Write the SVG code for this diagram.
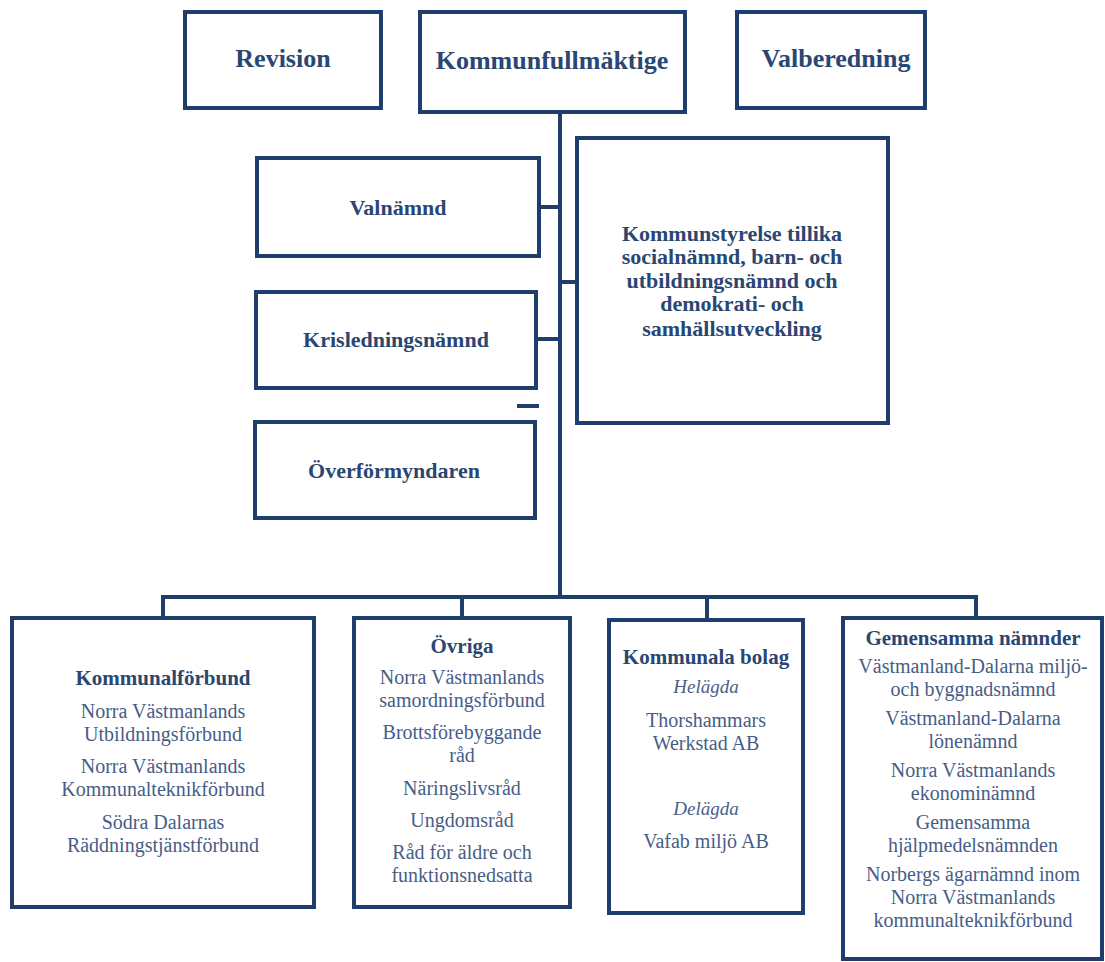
<svg xmlns="http://www.w3.org/2000/svg" width="1105" height="962" viewBox="0 0 1105 962">
<style>
.box{fill:#fff;stroke:#203e6b;stroke-width:4}
.con{stroke:#203e6b;stroke-width:4;fill:none}
text{font-family:"Liberation Serif","Times New Roman",serif;text-anchor:middle}
.t1{font-size:26px;font-weight:bold;fill:#2a4672}
.t2{font-size:22px;font-weight:bold;fill:#2a4672}
.t3{font-size:21px;font-weight:bold;fill:#2a4672}
.r{font-size:20px;fill:#465d87}
.i{font-size:19px;font-style:italic;fill:#4a6089}
</style>
<rect width="1105" height="962" fill="#fff"/>
<g id="connectors">
<line class="con" x1="560" y1="112" x2="560" y2="597"/>
<line class="con" x1="539" y1="207" x2="560" y2="207"/>
<line class="con" x1="536" y1="339" x2="560" y2="339"/>
<line class="con" x1="560" y1="282" x2="577" y2="282"/>
<line class="con" x1="517" y1="406" x2="539" y2="406"/>
<polyline class="con" points="163,617 163,597 976,597 976,617"/>
<line class="con" x1="462" y1="597" x2="462" y2="617"/>
<line class="con" x1="707" y1="597" x2="707" y2="619"/>
</g>
<g id="revision">
<rect class="box" x="185" y="12" width="196" height="96"/>
<text class="t1" x="283" y="67">Revision</text>
</g>
<g id="kommunfullmaktige">
<rect class="box" x="420" y="12" width="265" height="100"/>
<text class="t1" x="552" y="69">Kommunfullmäktige</text>
</g>
<g id="valberedning">
<rect class="box" x="737" y="12" width="188" height="96"/>
<text class="t1" x="836" y="67">Valberedning</text>
</g>
<g id="valnamnd">
<rect class="box" x="257" y="158" width="282" height="98"/>
<text class="t2" x="398" y="215">Valnämnd</text>
</g>
<g id="krisledningsnamnd">
<rect class="box" x="256" y="292" width="280" height="96"/>
<text class="t2" x="396" y="347">Krisledningsnämnd</text>
</g>
<g id="overformyndaren">
<rect class="box" x="255" y="422" width="280" height="96"/>
<text class="t2" x="394" y="478">Överförmyndaren</text>
</g>
<g id="kommunstyrelse">
<rect class="box" x="577" y="138" width="311" height="285"/>
<text class="t2" x="732" y="241">Kommunstyrelse tillika</text>
<text class="t2" x="732" y="264">socialnämnd, barn- och</text>
<text class="t2" x="732" y="288">utbildningsnämnd och</text>
<text class="t2" x="732" y="311">demokrati- och</text>
<text class="t2" x="732" y="336">samhällsutveckling</text>
</g>
<g id="kommunalforbund">
<rect class="box" x="12" y="618" width="302" height="289"/>
<text class="t3" x="163" y="685">Kommunalförbund</text>
<text class="r" x="163" y="718">Norra Västmanlands</text>
<text class="r" x="163" y="741">Utbildningsförbund</text>
<text class="r" x="163" y="773">Norra Västmanlands</text>
<text class="r" x="163" y="796">Kommunalteknikförbund</text>
<text class="r" x="163" y="829">Södra Dalarnas</text>
<text class="r" x="163" y="852">Räddningstjänstförbund</text>
</g>
<g id="ovriga">
<rect class="box" x="354" y="618" width="216" height="289"/>
<text class="t3" x="462" y="653">Övriga</text>
<text class="r" x="462" y="684">Norra Västmanlands</text>
<text class="r" x="462" y="707">samordningsförbund</text>
<text class="r" x="462" y="739">Brottsförebyggande</text>
<text class="r" x="462" y="762">råd</text>
<text class="r" x="462" y="795">Näringslivsråd</text>
<text class="r" x="462" y="827">Ungdomsråd</text>
<text class="r" x="462" y="859">Råd för äldre och</text>
<text class="r" x="462" y="882">funktionsnedsatta</text>
</g>
<g id="kommunala-bolag">
<rect class="box" x="609" y="620" width="194" height="293"/>
<text class="t3" x="706" y="664">Kommunala bolag</text>
<text class="i" x="706" y="693">Helägda</text>
<text class="r" x="706" y="727">Thorshammars</text>
<text class="r" x="706" y="750">Werkstad AB</text>
<text class="i" x="706" y="815">Delägda</text>
<text class="r" x="706" y="848">Vafab miljö AB</text>
</g>
<g id="gemensamma-namnder">
<rect class="box" x="843" y="618" width="259" height="341"/>
<text class="t3" x="973" y="645">Gemensamma nämnder</text>
<text class="r" x="973" y="673">Västmanland-Dalarna miljö-</text>
<text class="r" x="973" y="696">och byggnadsnämnd</text>
<text class="r" x="973" y="725">Västmanland-Dalarna</text>
<text class="r" x="973" y="748">lönenämnd</text>
<text class="r" x="973" y="777">Norra Västmanlands</text>
<text class="r" x="973" y="800">ekonominämnd</text>
<text class="r" x="973" y="829">Gemensamma</text>
<text class="r" x="973" y="852">hjälpmedelsnämnden</text>
<text class="r" x="973" y="881">Norbergs ägarnämnd inom</text>
<text class="r" x="973" y="904">Norra Västmanlands</text>
<text class="r" x="973" y="927">kommunalteknikförbund</text>
</g>
</svg>
